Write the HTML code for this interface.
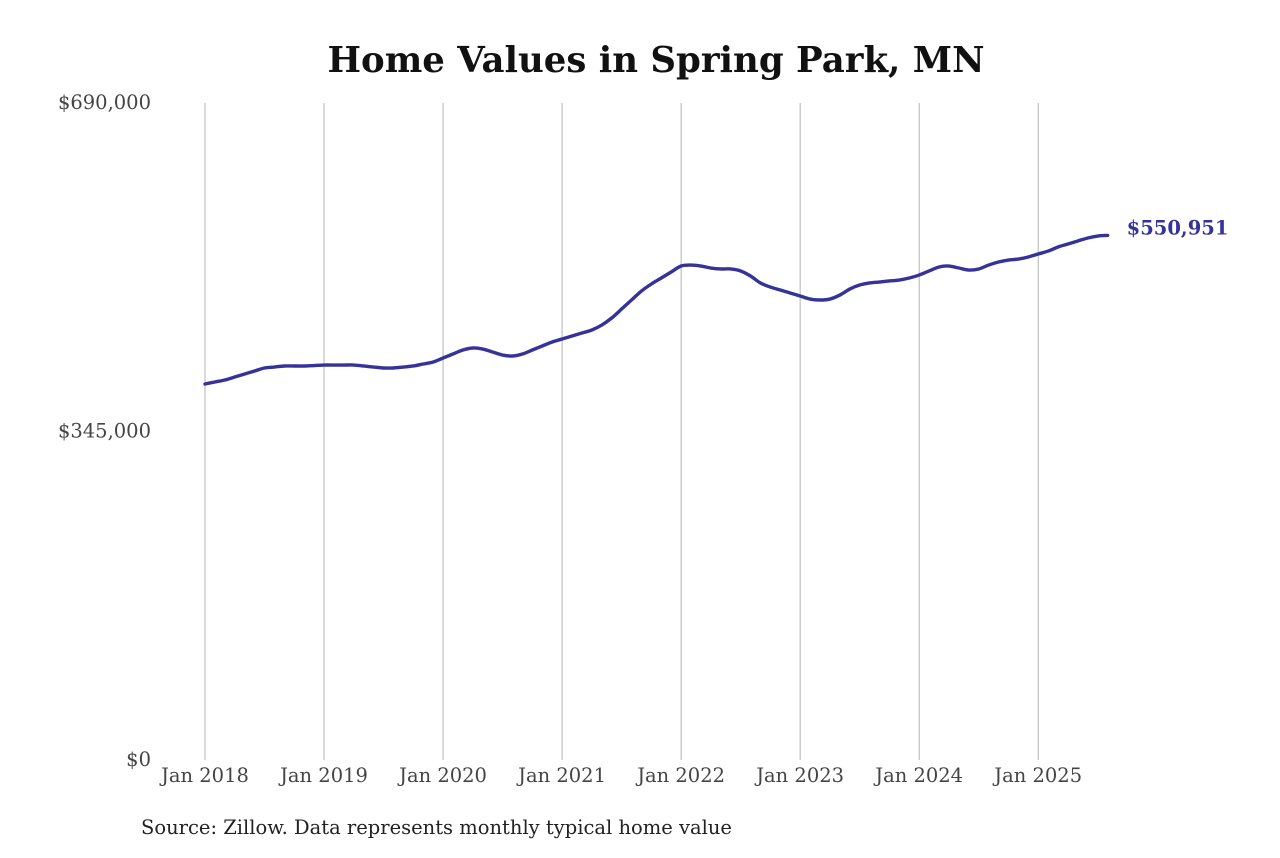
<!DOCTYPE html>
<html><head><meta charset="utf-8"><style>
body{margin:0;background:#fff;}
svg text{font-family:"DejaVu Serif","Liberation Serif",serif;}
</style></head><body>
<svg id="chart" width="1280" height="853" viewBox="0 0 1280 853" xmlns="http://www.w3.org/2000/svg">
<rect width="1280" height="853" fill="#fff"/>
<text x="656" y="72" text-anchor="middle" font-size="35.5" font-weight="bold" fill="#111">Home Values in Spring Park, MN</text>
<g id="grid"></g><g id="yticks"></g><g id="xticks"></g><g id="series"></g>
<text x="141" y="834" font-size="19.5" fill="#222">Source: Zillow. Data represents monthly typical home value</text>
</svg>
<script>
const startYear = 2018;
const values = [
394.9,397.0,399.1,402.2,405.4,408.5,411.7,412.7,413.8,413.8,413.8,414.3,
414.8,414.8,414.8,414.8,413.8,412.7,411.7,411.7,412.7,413.8,415.9,418.0,
422.2,426.4,430.6,432.7,431.6,428.5,425.3,424.3,426.4,430.6,434.8,439.0,
442.1,445.3,448.4,451.6,456.8,464.2,473.6,483.1,492.5,499.9,506.2,512.5,
518.8,519.8,518.8,516.7,515.7,515.7,513.6,508.3,501.0,496.7,493.6,490.4,
487.3,484.1,483.1,484.1,488.3,494.6,498.8,501.0,502.0,503.1,504.1,506.2,
509.3,513.6,517.8,518.8,516.7,514.6,515.7,519.8,523.0,525.1,526.1,528.3,
531.4,534.5,538.8,541.9,545.1,548.2,550.3,550.951];
const yTickValues = [0, 345000, 690000];
const yTickLabels = ["$0", "$345,000", "$690,000"];
const xTickLabels = ["Jan 2018","Jan 2019","Jan 2020","Jan 2021","Jan 2022","Jan 2023","Jan 2024","Jan 2025"];
const lastLabel = "$550,951";

const NS="http://www.w3.org/2000/svg";
const x0=205, pxPerYear=119.03, yTop=103, yBot=760, yMax=690000;
const xScale = m => x0 + m*pxPerYear/12;
const yScale = v => yBot - v/yMax*(yBot-yTop);
function mk(tag, attrs, parent){const e=document.createElementNS(NS,tag);for(const k in attrs)e.setAttribute(k,attrs[k]);parent.appendChild(e);return e;}
const grid=document.getElementById('grid'), yt=document.getElementById('yticks'), xt=document.getElementById('xticks'), ser=document.getElementById('series');
xTickLabels.forEach((lab,i)=>{
  const x=xScale(i*12);
  const l=mk('line',{x1:x,x2:x,y1:yTop,y2:yBot,stroke:'#b4b4b4','stroke-width':1},grid);
  
  
  const t=mk('text',{x:x,y:782,'text-anchor':'middle','font-size':19.5,fill:'#444'},xt);
  t.textContent=lab;
  
  
});
yTickValues.forEach((v,i)=>{
  const t=mk('text',{x:151,y:yScale(v)+6,'text-anchor':'end','font-size':19.5,fill:'#444'},yt);
  t.textContent=yTickLabels[i];
  
  
});
const pts=values.map((v,i)=>[xScale(i),yScale(v*1000)]);
let d='M'+pts[0][0]+','+pts[0][1];
for(let i=0;i<pts.length-1;i++){
  const p0=pts[Math.max(0,i-1)],p1=pts[i],p2=pts[i+1],p3=pts[Math.min(pts.length-1,i+2)];
  const c1=[p1[0]+(p2[0]-p0[0])/6,p1[1]+(p2[1]-p0[1])/6];
  const c2=[p2[0]-(p3[0]-p1[0])/6,p2[1]-(p3[1]-p1[1])/6];
  d+=' C'+c1.join(',')+' '+c2.join(',')+' '+p2.join(',');
}
const path=mk('path',{d:d,fill:'none',stroke:'#35329a','stroke-width':3.4,'stroke-linejoin':'round','stroke-linecap':'round'},ser);


const last=pts[pts.length-1];
const lt=mk('text',{x:last[0]+19,y:last[1]-1,'font-size':19.5,'font-weight':'bold',fill:'#35329a'},ser);
lt.textContent=lastLabel;


</script>
</body></html>
